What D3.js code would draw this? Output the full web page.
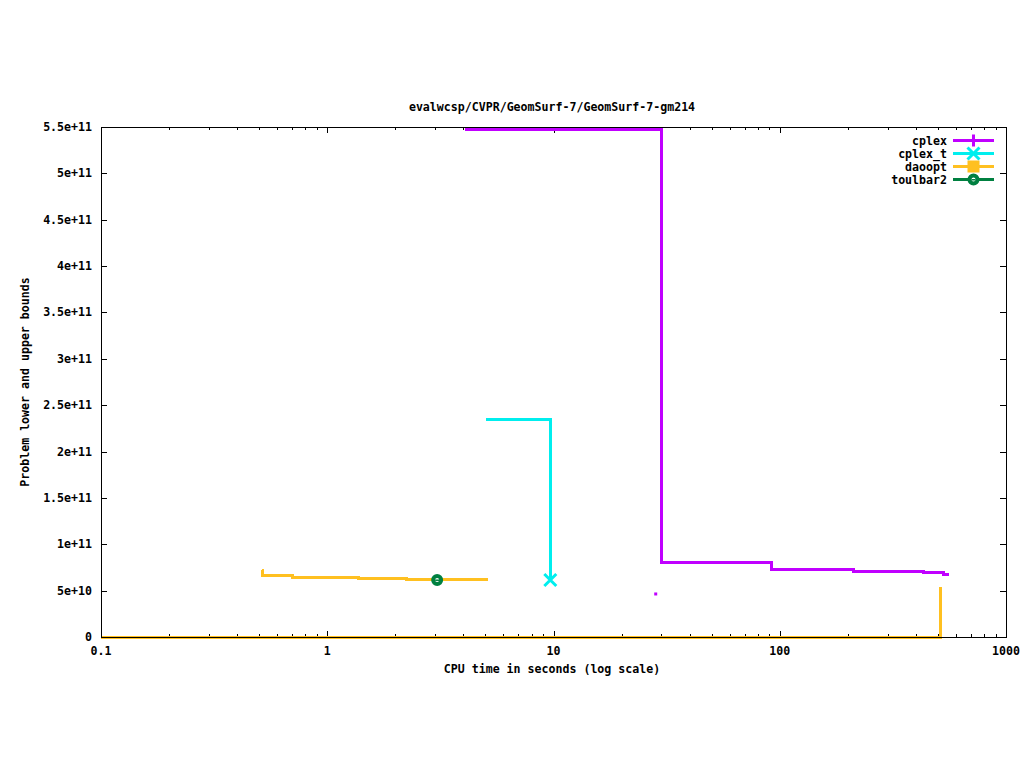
<!DOCTYPE html>
<html>
<head>
<meta charset="utf-8">
<script src="https://cdn.jsdelivr.net/npm/d3@7"></script>
<style>
  body { margin: 0; background: #fff; }
  text { font-family: "DejaVu Sans Mono", monospace; font-size: 11.6px; font-weight: bold; fill: #000; }
</style>
</head>
<body>
<div id="graph"></div>
<script>
// data
const cplexUpper = [[4.06, 5.47e11], [29.9, 8.0e10], [92.4, 7.23e10], [211, 7.07e10], [434, 6.96e10], [532, 6.74e10], [560, 6.74e10]];
const cplexLower = [[28.3, 4.64e10]];
const cplexT = [[5.03, 2.35e11], [9.68, 6.15e10]];
const cplexTMark = [[9.68, 6.15e10]];
const daooptUpper = [[0.516, 7.2e10], [0.52, 6.6e10], [0.70, 6.4e10], [1.37, 6.3e10], [2.24, 6.15e10], [5.14, 6.15e10]];
const daooptLower = [[0.1, 0], [516, 0], [516, 5.35e10]];
const toulbarMark = [[3.06, 6.15e10]];

const xTicks = [0.1, 1, 10, 100, 1000];
const xTickLabels = ["0.1", "1", "10", "100", "1000"];
const yTicks = [0, 5e10, 1e11, 1.5e11, 2e11, 2.5e11, 3e11, 3.5e11, 4e11, 4.5e11, 5e11, 5.5e11];
const yTickLabels = ["0", "5e+10", "1e+11", "1.5e+11", "2e+11", "2.5e+11", "3e+11", "3.5e+11", "4e+11", "4.5e+11", "5e+11", "5.5e+11"];

const legendNames = ["cplex", "cplex_t", "daoopt", "toulbar2"];
const colors = { cplex: "#c000ff", cplex_t: "#00eeee", daoopt: "#ffc020", toulbar2: "#008040" };

// plot area
const margin = { top: 127, right: 18, bottom: 131, left: 101 },
  width = 1024 - margin.left - margin.right,
  height = 768 - margin.top - margin.bottom;

const svg = d3.select("#graph").append("svg")
  .attr("width", 1024).attr("height", 768);

const g = svg.append("g")
  .attr("transform", "translate(" + margin.left + "," + margin.top + ")");

const x = d3.scaleLog().domain([0.1, 1000]).range([0, width]);
const y = d3.scaleLinear().domain([0, 5.5e11]).range([height, 0]);

// minor ticks on log axis
const minor = [];
for (let d = 0.1; d < 1000; d *= 10) {
  for (let k = 2; k <= 9; k++) minor.push(d * k);
}

const ticks = g.append("g").attr("stroke", "#000").attr("stroke-width", 1).attr("shape-rendering", "crispEdges");
minor.forEach(function (v) {
  const px = Math.round(x(v)) + 0.5;
  ticks.append("line").attr("x1", px).attr("x2", px).attr("y1", height).attr("y2", height - 3);
  ticks.append("line").attr("x1", px).attr("x2", px).attr("y1", 0).attr("y2", 3);
});
xTicks.forEach(function (v) {
  const px = Math.round(x(v)) + 0.5;
  ticks.append("line").attr("x1", px).attr("x2", px).attr("y1", height).attr("y2", height - 6);
  ticks.append("line").attr("x1", px).attr("x2", px).attr("y1", 0).attr("y2", 6);
});
yTicks.forEach(function (v) {
  const py = Math.round(y(v)) + 0.5;
  ticks.append("line").attr("x1", 0).attr("x2", 6).attr("y1", py).attr("y2", py);
  ticks.append("line").attr("x1", width).attr("x2", width - 6).attr("y1", py).attr("y2", py);
});

// tick labels
g.selectAll(".xl").data(xTicks).enter().append("text")
  .attr("x", function (d) { return x(d); })
  .attr("y", height + 18)
  .attr("text-anchor", "middle")
  .text(function (d, i) { return xTickLabels[i]; });

g.selectAll(".yl").data(yTicks).enter().append("text")
  .attr("x", -9)
  .attr("y", function (d) { return y(d) + 4; })
  .attr("text-anchor", "end")
  .text(function (d, i) { return yTickLabels[i]; });

// titles
svg.append("text").attr("x", 552).attr("y", 111).attr("text-anchor", "middle")
  .text("evalwcsp/CVPR/GeomSurf-7/GeomSurf-7-gm214");
svg.append("text").attr("x", 552).attr("y", 673).attr("text-anchor", "middle")
  .text("CPU time in seconds (log scale)");
svg.append("text").attr("transform", "translate(29,382) rotate(-90)").attr("text-anchor", "middle")
  .text("Problem lower and upper bounds");

const line = d3.line()
  .x(function (d) { return x(d[0]); })
  .y(function (d) { return y(d[1]); })
  .curve(d3.curveStepAfter);

function drawLine(data, color) {
  g.append("path").datum(data)
    .attr("d", line)
    .attr("fill", "none")
    .attr("stroke", color)
    .attr("stroke-width", 3)
    .attr("shape-rendering", "crispEdges");
}

drawLine(daooptLower, colors.daoopt);
drawLine(daooptUpper, colors.daoopt);
drawLine(cplexT, colors.cplex_t);
drawLine(cplexUpper, colors.cplex);

g.selectAll(".lb").data(cplexLower).enter().append("rect")
  .attr("x", function (d) { return x(d[0]) - 1.5; })
  .attr("y", function (d) { return y(d[1]) - 1.5; })
  .attr("width", 3).attr("height", 3)
  .attr("fill", colors.cplex);

// point markers
function marker(sel, name, cx, cy) {
  const c = colors[name];
  if (name === "cplex") {
    sel.append("path").attr("d", `M${cx - 6},${cy}H${cx + 6}M${cx},${cy - 6}V${cy + 6}`)
      .attr("stroke", c).attr("stroke-width", 3).attr("fill", "none");
  } else if (name === "cplex_t") {
    sel.append("path").attr("d", `M${cx - 6},${cy - 6}L${cx + 6},${cy + 6}M${cx - 6},${cy + 6}L${cx + 6},${cy - 6}`)
      .attr("stroke", c).attr("stroke-width", 3).attr("fill", "none");
  } else if (name === "daoopt") {
    sel.append("rect").attr("x", cx - 6).attr("y", cy - 6).attr("width", 12).attr("height", 12).attr("fill", c);
  } else {
    sel.append("circle").attr("cx", cx).attr("cy", cy).attr("r", 4)
      .attr("stroke", c).attr("stroke-width", 4).attr("fill", "#fff");
    sel.append("rect").attr("x", cx - 2).attr("y", cy - 0.5).attr("width", 4).attr("height", 1.5).attr("fill", c);
  }
}

cplexTMark.forEach(function (d) { marker(g, "cplex_t", x(d[0]), y(d[1])); });
toulbarMark.forEach(function (d) { marker(g, "toulbar2", x(d[0]), y(d[1])); });

// border
g.append("rect").attr("x", 0.5).attr("y", 0.5).attr("width", width).attr("height", height)
  .attr("fill", "none").attr("stroke", "#000").attr("shape-rendering", "crispEdges");

// legend
const legend = svg.append("g");
legendNames.forEach(function (name, i) {
  const ly = 140.5 + i * 13;
  legend.append("text").attr("x", 947).attr("y", ly + 4).attr("text-anchor", "end").text(name);
  legend.append("line").attr("x1", 953).attr("x2", 994).attr("y1", ly).attr("y2", ly)
    .attr("stroke", colors[name]).attr("stroke-width", 3);
  marker(legend, name, 973.5, ly);
});
</script>
</body>
</html>
